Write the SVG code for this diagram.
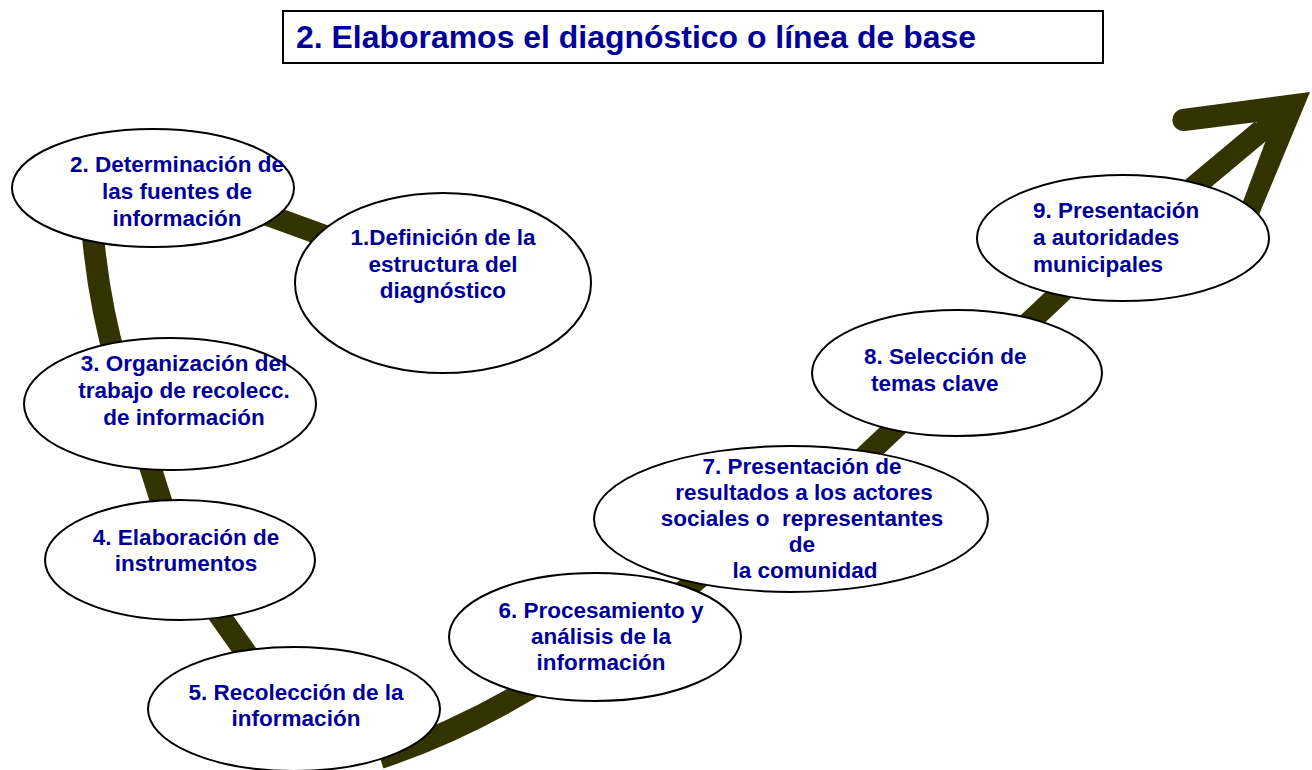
<svg xmlns="http://www.w3.org/2000/svg" width="1312" height="770" viewBox="0 0 1312 770">
<style>
.c{fill:none;stroke:#333300;stroke-width:22}
.n ellipse{fill:#fff;stroke:#000;stroke-width:2}
.n text,.t{font-family:"Liberation Sans",Arial,sans-serif;font-weight:bold;fill:#000099}
.n text{font-size:22.5px;text-anchor:middle}
.n text.l{text-anchor:start}
</style>
<rect width="1312" height="770" fill="#fff"/>
<g id="title">
<rect x="283" y="11" width="820" height="52" fill="#fff" stroke="#000" stroke-width="2"/>
<text class="t" x="296" y="48" font-size="31" textLength="680" lengthAdjust="spacingAndGlyphs">2. Elaboramos el diagnóstico o línea de base</text>
</g>
<g id="connectors">
<path class="c" d="M350,245 L240,205"/>
<path class="c" d="M92,225 Q98,300 117,365"/>
<path class="c" d="M145,450 L167,520"/>
<path class="c" d="M205,595 L258,670"/>
<path class="c" d="M380,758 Q470,728 560,670"/>
<path class="c" d="M650,620 L720,560"/>
<path class="c" d="M840,480 L930,395"/>
<path class="c" d="M1000,350 L1090,265"/>
<path class="c" d="M1140,232 L1262,130"/>
<path fill="#333300" d="M1310,92 L1182,109 A11,11 0 0 0 1185,131 L1257,122 L1230,145 L1266,140 L1238,215 L1256,222 Z"/>
</g>
<g id="n1" class="n">
<ellipse cx="443" cy="283" rx="148" ry="90"/>
<text x="443" y="245">1.Definición de la</text>
<text x="443" y="272">estructura del</text>
<text x="443" y="298">diagnóstico</text>
</g>
<g id="n2" class="n">
<ellipse cx="153" cy="188" rx="141" ry="59"/>
<text x="177" y="172">2. Determinación de</text>
<text x="177" y="199">las fuentes de</text>
<text x="177" y="226">información</text>
</g>
<g id="n3" class="n">
<ellipse cx="170" cy="404" rx="146" ry="66"/>
<text x="184" y="371">3. Organización del</text>
<text x="184" y="398">trabajo de recolecc.</text>
<text x="184" y="425">de información</text>
</g>
<g id="n4" class="n">
<ellipse cx="180" cy="560" rx="135" ry="60"/>
<text x="186" y="545">4. Elaboración de</text>
<text x="186" y="571">instrumentos</text>
</g>
<g id="n5" class="n">
<ellipse cx="294" cy="709" rx="146" ry="62"/>
<text x="296" y="700">5. Recolección de la</text>
<text x="296" y="726">información</text>
</g>
<g id="n6" class="n">
<ellipse cx="595" cy="637" rx="146" ry="64"/>
<text x="601" y="618">6. Procesamiento y</text>
<text x="601" y="644">análisis de la</text>
<text x="601" y="670">información</text>
</g>
<g id="n7" class="n">
<ellipse cx="791" cy="519" rx="197" ry="73"/>
<text x="802" y="474">7. Presentación de</text>
<text x="804" y="500">resultados a los actores</text>
<text x="802" y="526" xml:space="preserve" style="white-space:pre">sociales o  representantes</text>
<text x="802" y="552">de</text>
<text x="805" y="578">la comunidad</text>
</g>
<g id="n8" class="n">
<ellipse cx="957" cy="373" rx="145" ry="63"/>
<text class="l" x="864" y="364">8. Selección de</text>
<text class="l" x="871" y="391">temas clave</text>
</g>
<g id="n9" class="n">
<ellipse cx="1123" cy="238" rx="146" ry="63"/>
<text class="l" x="1033" y="218">9. Presentación</text>
<text class="l" x="1033" y="245">a autoridades</text>
<text class="l" x="1033" y="272">municipales</text>
</g>
</svg>
